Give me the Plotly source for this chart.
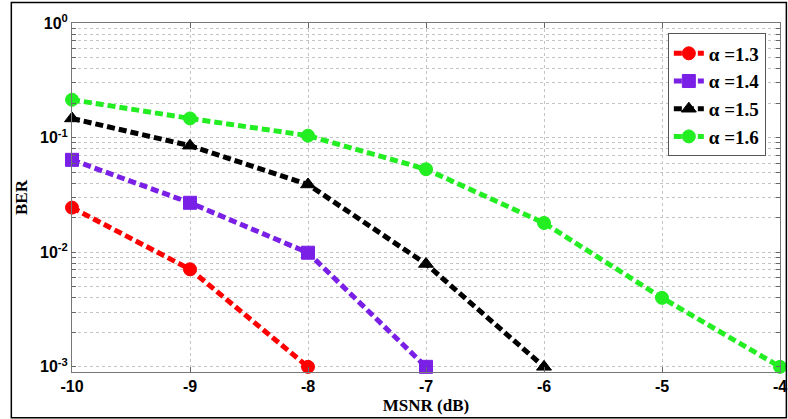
import plotly.graph_objects as go

msnr = [-10, -9, -8, -7, -6, -5, -4]
ber_13 = [0.0245, 0.0071, 0.001]
ber_14 = [0.064, 0.027, 0.0099, 0.001]
ber_15 = [0.147, 0.085, 0.039, 0.0079, 0.001]
ber_16 = [0.214, 0.147, 0.104, 0.053, 0.018, 0.004, 0.001]
names = ["\u03b1 =1.3", "\u03b1 =1.4", "\u03b1 =1.5", "\u03b1 =1.6"]
colors = ["#ff0000", "#7a1fe6", "#000000", "#22ee22"]
symbols = ["circle", "square", "triangle-up", "circle"]
series = [ber_13, ber_14, ber_15, ber_16]

x_ticks = [-10, -9, -8, -7, -6, -5, -4]
x_labels = ["-10", "-9", "-8", "-7", "-6", "-5", "-4"]
decades = [-3, -2, -1, 0]

fig = go.Figure()
for name, col, sym, ys in zip(names, colors, symbols, series):
    fig.add_trace(go.Scatter(
        x=msnr[:len(ys)], y=ys, name=name, mode="lines+markers",
        line=dict(color=col, width=5, dash="8px,4px"),
        marker=dict(symbol=sym, size=13, color=col, line=dict(color=col, width=1)),
        cliponaxis=False,
    ))

yvals, ytext = [], []
for d in decades:
    for m in range(1, 10):
        if d == 0 and m > 1:
            break
        yvals.append(m * 10 ** d)
        ytext.append(f"10<sup>{d}</sup>" if m == 1 else "")

fig.update_layout(
    width=788, height=419,
    margin=dict(l=72, r=8, t=23, b=47, autoexpand=False),
    paper_bgcolor="white", plot_bgcolor="white",
    showlegend=True,
    legend=dict(x=0.98, y=0.97, xanchor="right", yanchor="top",
                bordercolor="#555555", borderwidth=1, bgcolor="white",
                font=dict(family="Liberation Serif", size=19, color="black", weight="bold"),
                tracegroupgap=0, itemwidth=30),
    xaxis=dict(range=[-10, -4], tickvals=x_ticks, ticktext=x_labels, automargin=False,
               ticks="inside", ticklen=5, tickcolor="#666666",
               showline=True, linecolor="#777777", linewidth=1, mirror="ticks",
               showgrid=True, gridcolor="#c4c4c4", griddash="dot", gridwidth=1,
               zeroline=False, ticklabeloverflow="allow",
               tickfont=dict(family="Liberation Sans", size=16, color="black", weight="bold"),
               title=dict(text="MSNR (dB)", standoff=4,
                          font=dict(family="Liberation Serif", size=17, color="black", weight="bold"))),
    yaxis=dict(type="log", range=[-3.045, 0], tickvals=yvals, ticktext=ytext, automargin=False,
               ticks="inside", ticklen=4, tickcolor="#666666",
               showline=True, linecolor="#777777", linewidth=1, mirror="ticks",
               showgrid=True, gridcolor="#c4c4c4", griddash="dot", gridwidth=1,
               zeroline=False,
               tickfont=dict(family="Liberation Sans", size=16, color="black", weight="bold"),
               title=dict(text="BER", standoff=8,
                          font=dict(family="Liberation Serif", size=17, color="black", weight="bold"))),
)

fig.add_shape(type="rect", xref="paper", yref="paper",
              x0=-0.0857, x1=1.009, y0=-0.131, y1=1.059,
              line=dict(color="black", width=1.5))

fig.write_html("out.html")
